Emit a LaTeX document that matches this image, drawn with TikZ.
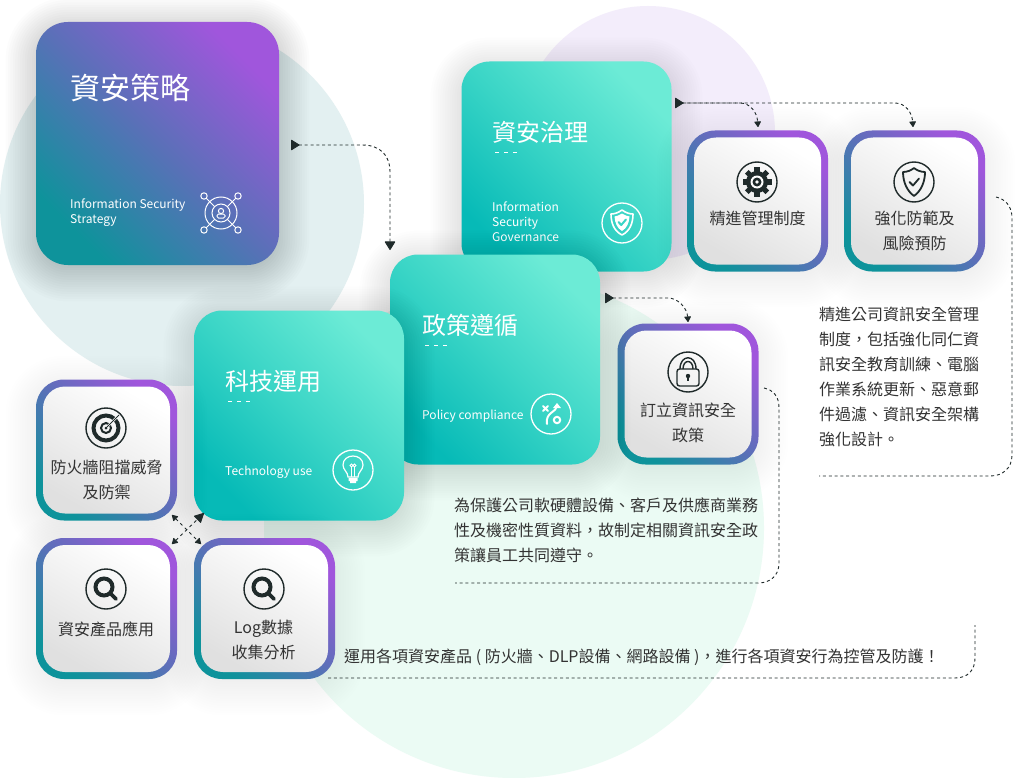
\documentclass[tikz,border=0pt]{standalone}
\usepackage{fontspec}
\setmainfont{Noto Sans CJK TC}
\usetikzlibrary{arrows.meta}
\definecolor{bgteal}{HTML}{E3F0F1}
\definecolor{bgpurple}{HTML}{F3EDFB}
\definecolor{bggreen}{HTML}{EBFBF4}
\definecolor{gteal}{HTML}{0E939B}
\definecolor{gblue}{HTML}{5A70B8}
\definecolor{gpurple}{HTML}{A056DC}
\definecolor{tdark}{HTML}{06BAB7}
\definecolor{tmid}{HTML}{3AD5C6}
\definecolor{tlight}{HTML}{6CEBD6}
\definecolor{ink}{HTML}{333333}
\definecolor{icon}{HTML}{1F2A2A}
\definecolor{ingray}{HTML}{E0E0E0}
\tikzset{
  bigbox/.style={inner sep=0pt,outer sep=0pt,minimum width=#1,minimum height=#1,rounded corners=28pt},
  purplebox/.style={bigbox=243pt,rounded corners=32pt,shading=axis,bottom color=gteal,top color=gpurple,middle color=gblue,shading angle=-45},
  tealbox/.style={bigbox=#1,shading=axis,bottom color=tdark,top color=tlight,middle color=tmid,shading angle=-45},
  ringbox/.style={inner sep=0pt,outer sep=0pt,minimum width=141pt,minimum height=141pt,rounded corners=28pt,shading=axis,bottom color=gteal,top color=gpurple,middle color=gblue,shading angle=-45},
  ringin/.style={inner sep=0pt,outer sep=0pt,minimum width=127pt,minimum height=127pt,rounded corners=22pt,shading=axis,bottom color=ingray,top color=white,shading angle=-30},
  bigtitle/.style={anchor=west,inner sep=0pt,text=white,font=\fontsize{30}{36}\selectfont},
  title/.style={anchor=west,inner sep=0pt,text=white,font=\fontsize{24}{30}\selectfont},
  subtitle/.style={anchor=west,inner sep=0pt,text=white,font=\fontsize{12}{15}\selectfont},
  ringlabel/.style={anchor=center,inner sep=0pt,text=ink,font=\fontsize{16}{20}\selectfont},
  bodytext/.style={anchor=west,inner sep=0pt,text=ink,font=\fontsize{16}{20}\selectfont},
  link/.style={draw=icon,line width=.9pt,dash pattern=on 3pt off 2.8pt},
  wicon/.style={draw=white,line width=1.3pt,fill=none},
  kicon/.style={draw=icon,line width=1.4pt,fill=none},
  headstart/.tip={Triangle[reversed,length=9pt,width=11pt,round]},
  headbig/.tip={Triangle[length=9pt,width=11pt,round]},
  headsmall/.tip={Triangle[length=6pt,width=7pt,round]},
  tick/.style={white,line width=.7pt,dash pattern=on 4pt off 5pt},
}
\newcommand{\fwc}{\char"FF0C\relax}
\newcommand{\fwx}{\char"FF01\relax}
\newcommand{\softshadow}[6]{% x1 y1 x2 y2 radius strength
  \foreach \i in {1,...,16}{
    \pgfmathsetmacro{\e}{\i*2.4-8}
    \pgfmathsetmacro{\r}{max(#5+\e,2)}
    \fill[black,opacity=#6,rounded corners=\r pt] ({#1-\e},{#2-\e+6}) rectangle ({#3+\e},{#4+\e+6});
  }}
\begin{document}
\begin{tikzpicture}[x=1pt,y=-1pt]
\useasboundingbox (0,0) rectangle (1024,778);
\fill[white] (0,0) rectangle (1024,778);
% background discs
\fill[bgteal] (182,204) circle[radius=182];
\fill[bgpurple] (648,133) circle[radius=127];
\fill[bggreen] (514,528) circle[radius=250];
% strategy
\softshadow{36}{22}{279}{265}{32}{.011}
\node[purplebox] (strategy) at (157.5,143.5) {};
\node[bigtitle] (strategyT) at (70,88) {資安策略};
\node[subtitle,align=left] (strategyS) at (70,213) {Information Security\\Strategy};
% governance
\softshadow{461}{62}{672}{271}{28}{.008}
\node[tealbox=210pt] (gov) at (566.5,166.5) {};
\node[title] (govT) at (492,132) {資安治理};
\node[subtitle,align=left] (govS) at (492,222) {Information\\Security\\Governance};
\draw[tick] (495,152) -- (517,152);
\draw[wicon] (622,223) circle[radius=20];
% rings
\softshadow{687}{131}{828}{271}{28}{.005}
\softshadow{844}{131}{985}{271}{28}{.005}
\softshadow{618}{324}{758}{464}{28}{.005}
\node[ringbox] (manage) at (757.5,201) {};
\node[ringin] (manageI) at (manage) {};
\node[ringbox] (harden) at (914.5,201) {};
\node[ringin] (hardenI) at (harden) {};
\node[ringbox] (rule) at (688,394) {};
\node[ringin] (ruleI) at (rule) {};
% policy
\softshadow{390}{255}{600}{464}{28}{.008}
\node[tealbox=210pt] (policy) at (495,359.5) {};
\node[title] (policyT) at (422,325) {政策遵循};
\node[subtitle] (policyS) at (422,416) {Policy compliance};
\draw[tick] (425,345) -- (447,345);
% tech
\softshadow{194}{311}{404}{520}{28}{.008}
\node[tealbox=210pt] (tech) at (299,415.5) {};
\node[title] (techT) at (225,381) {科技運用};
\node[subtitle] (techS) at (225,472) {Technology use};
\draw[tick] (228,401) -- (250,401);
% lower rings
\softshadow{36}{380}{177}{520}{28}{.005}
\softshadow{36}{538}{177}{679}{28}{.005}
\softshadow{194}{538}{335}{679}{28}{.005}
\node[ringbox] (fire) at (106.5,450) {};
\node[ringin] (fireI) at (fire) {};
\node[ringbox] (prod) at (106.5,608.5) {};
\node[ringin] (prodI) at (prod) {};
\node[ringbox] (logb) at (264.5,608.5) {};
\node[ringin] (logI) at (logb) {};
% ring labels
\node[ringlabel] (l1) at (757.5,218) {精進管理制度};
\node[ringlabel] (l2a) at (914.5,218) {強化防範及};
\node[ringlabel] (l2b) at (914.5,243) {風險預防};
\node[ringlabel] (l3a) at (688,410) {訂立資訊安全};
\node[ringlabel] (l3b) at (688,435) {政策};
\node[ringlabel] (l4a) at (106.5,467) {防火牆阻擋威脅};
\node[ringlabel] (l4b) at (106.5,492) {及防禦};
\node[ringlabel] (l5) at (106,629) {資安產品應用};
\node[ringlabel] (l6a) at (263.5,628.5) {Log數據};
\node[ringlabel] (l6b) at (263.5,652) {收集分析};
% body text
\node[bodytext] (p1) at (819,314) {精進公司資訊安全管理};
\node[bodytext] (p2) at (819,339) {制度\fwc 包括強化同仁資};
\node[bodytext] (p3) at (819,364) {訊安全教育訓練、電腦};
\node[bodytext] (p4) at (819,389) {作業系統更新、惡意郵};
\node[bodytext] (p5) at (819,414) {件過濾、資訊安全架構};
\node[bodytext] (p6) at (819,439) {強化設計。};
\node[bodytext] (q1) at (454,505) {為保護公司軟硬體設備、客戶及供應商業務};
\node[bodytext] (q2) at (454,530) {性及機密性質資料\fwc 故制定相關資訊安全政};
\node[bodytext] (q3) at (454,555) {策讓員工共同遵守。};
\node[bodytext] (r1) at (344,657) {運用各項資安產品 ( 防火牆、DLP設備、網路設備 )\fwc 進行各項資安行為控管及防護\fwx};
% connector end points
\coordinate (a1) at (291,145); \coordinate (a2) at (390,250);
\coordinate (b1) at (675,103); \coordinate (b2) at (758,127); \coordinate (b3) at (913,127);
\coordinate (c1) at (605,298); \coordinate (c2) at (688,322);
\coordinate (d1) at (996,197); \coordinate (d2) at (819,476);
\coordinate (e1) at (764,388); \coordinate (e2) at (455,583);
\coordinate (f1) at (328,678); \coordinate (f2) at (975,625);
\coordinate (x1) at (172,515); \coordinate (x2) at (204,513);
\coordinate (x3) at (172,544); \coordinate (x4) at (201,544);
% connectors
\draw[link,{headstart}-{headbig}] (a1) -- (362,145) .. controls (380,145) and (390,155) .. (390,172) -- (a2);
\draw[link,{headstart}-{headsmall}] (b1) -- (740,103) .. controls (750,103) and (757,112) .. (b2);
\draw[link,-{headsmall}] (b1) -- (895,103) .. controls (905,103) and (912,112) .. (b3);
\draw[link,{headstart}-{headsmall}] (c1) -- (668,298) .. controls (678,298) and (687,308) .. (c2);
\draw[link] (d1) .. controls (1005,199) and (1012,206) .. (1012,218) -- (1012,455) .. controls (1012,468) and (1003,476) .. (990,476) -- (d2);
\draw[link] (e1) .. controls (773,390) and (779,396) .. (779,408) -- (779,563) .. controls (779,575) and (771,583) .. (758,583) -- (e2);
\draw[link] (f1) -- (955,678) .. controls (968,678) and (975,670) .. (975,658) -- (f2);
\draw[link,dash pattern=on 3pt off 3.4pt,{headsmall}-{headsmall}] (x1) -- (x4);
\draw[link,dash pattern=on 3pt off 3.4pt,{headsmall}-{Triangle[length=10pt,width=10pt,round]}] (x3) -- (x2);
% white icons
\begin{scope}[shift={(221,213)}]
  \draw[wicon,line width=1pt] (0,0) circle[radius=16];
  \draw[wicon,line width=1pt] (0,0) circle[radius=9];
  \foreach \a/\b in {-1/-1,1/-1,-1/1,1/1}{
    \draw[wicon,line width=1pt] (\a*17,\b*17) circle[radius=3.2];
    \draw[wicon,line width=1pt] (\a*15,\b*15) -- (\a*6.5,\b*6.5);
  }
  \draw[wicon,line width=1pt] (0,-2) circle[radius=2.6];
  \draw[wicon,line width=1pt,rounded corners=1.5pt] (-4,5) rectangle (4,1);
\end{scope}
\begin{scope}[shift={(622,223)}]
  \draw[white,line width=1.6pt,line join=round] (0,-13) .. controls (-4,-10) and (-8,-9) .. (-11,-9) .. controls (-11,0) and (-8,8) .. (0,12) .. controls (8,8) and (11,0) .. (11,-9) .. controls (8,-9) and (4,-10) .. (0,-13) -- cycle;
  \fill[white] (0,-9.5) .. controls (-3,-7.5) and (-5,-7) .. (-7.5,-6.5) .. controls (-7,0) and (-5,5) .. (0,8) .. controls (5,5) and (7,0) .. (7.5,-6.5) .. controls (5,-7) and (3,-7.5) .. (0,-9.5) -- cycle;
  \draw[tmid,line width=2pt,line cap=round,line join=round] (-3.5,-1) -- (-.8,2) -- (4,-3.5);
\end{scope}
\begin{scope}[shift={(551,414)}]
  \draw[wicon] (0,0) circle[radius=20];
  \draw[white,line width=2pt,line cap=round] (-8,-8) -- (-3,-3) (-8,-3) -- (-3,-8);
  \draw[white,line width=2pt,line cap=round] (6,-8) .. controls (6,-2) and (-6,-2) .. (-4,10);
  \fill[white] (6,-11) -- (10,-6) -- (2,-6) -- cycle;
  \draw[white,line width=2pt] (6,6) circle[radius=3.2];
\end{scope}
\begin{scope}[shift={(353,470)}]
  \draw[wicon] (0,0) circle[radius=20];
  \draw[wicon,line width=1.2pt] (-5,7) .. controls (-5,2) and (-10,0) .. (-10,-5) .. controls (-10,-17) and (10,-17) .. (10,-5) .. controls (10,0) and (5,2) .. (5,7) -- cycle;
  \draw[wicon,line width=1pt] (-1.5,7) -- (-1.5,-3) (1.5,7) -- (1.5,-3);
  \draw[wicon,line width=1pt] (-1.5,-4.5) circle[radius=1.5];
  \draw[wicon,line width=1pt] (1.5,-4.5) circle[radius=1.5];
  \fill[white] (-4.5,8) rectangle (4.5,11) (-3,11) rectangle (3,13);
\end{scope}
% dark icons
\begin{scope}[shift={(757,182)}]
  \draw[kicon] (0,0) circle[radius=20];
  \foreach \a in {0,45,...,315}{\fill[icon,rotate=\a] (-2.6,-14.5) rectangle (2.6,-8);}
  \fill[icon] (0,0) circle[radius=11];
  \fill[white] (0,0) circle[radius=6.5];
  \fill[icon] (0,0) circle[radius=4.5];
  \fill[white] (0,0) circle[radius=1.8];
\end{scope}
\begin{scope}[shift={(914,182)}]
  \draw[kicon] (0,0) circle[radius=20];
  \draw[icon,line width=1.8pt,line join=round] (0,-14) .. controls (-3,-11.5) and (-7,-10) .. (-11,-10) .. controls (-11,0) and (-7,9) .. (0,14) .. controls (7,9) and (11,0) .. (11,-10) .. controls (7,-10) and (3,-11.5) .. (0,-14) -- cycle;
  \draw[icon,line width=1.8pt,line cap=round,line join=round] (-4.5,0) -- (-1,3.5) -- (5,-3.5);
\end{scope}
\begin{scope}[shift={(688,372)}]
  \draw[kicon] (0,0) circle[radius=20];
  \draw[icon,line width=1.4pt,rounded corners=2.5pt] (-11,-3) rectangle (11,14);
  \draw[icon,line width=1.4pt] (-8,-3) .. controls (-8,-18) and (8,-18) .. (8,-3);
  \draw[icon,line width=1.4pt] (-5,-3) .. controls (-5,-13) and (5,-13) .. (5,-3);
  \fill[icon] (0,4) circle[radius=2.2];
  \draw[icon,line width=1.4pt] (0,4) -- (0,9);
\end{scope}
\begin{scope}[shift={(106,428)}]
  \draw[kicon] (0,0) circle[radius=20];
  \draw[icon,line width=4pt] (0,0) circle[radius=12.5];
  \draw[icon,line width=2pt] (0,0) circle[radius=5];
  \fill[icon] (0,0) circle[radius=1.5];
  \draw[white,line width=2.4pt] (1,-1) -- (13,-13);
  \draw[icon,line width=1pt] (0,0) -- (13,-13);
\end{scope}
\foreach \nm/\cx in {m1/106,m2/264}{
\begin{scope}[shift={(\cx,589)}]
  \draw[kicon] (0,0) circle[radius=20];
  \draw[icon,line width=4pt] (-2,-2) circle[radius=8.5];
  \draw[icon,line width=3.6pt,line cap=round] (5,5) -- (10,10);
\end{scope}}
\end{tikzpicture}
\end{document}
